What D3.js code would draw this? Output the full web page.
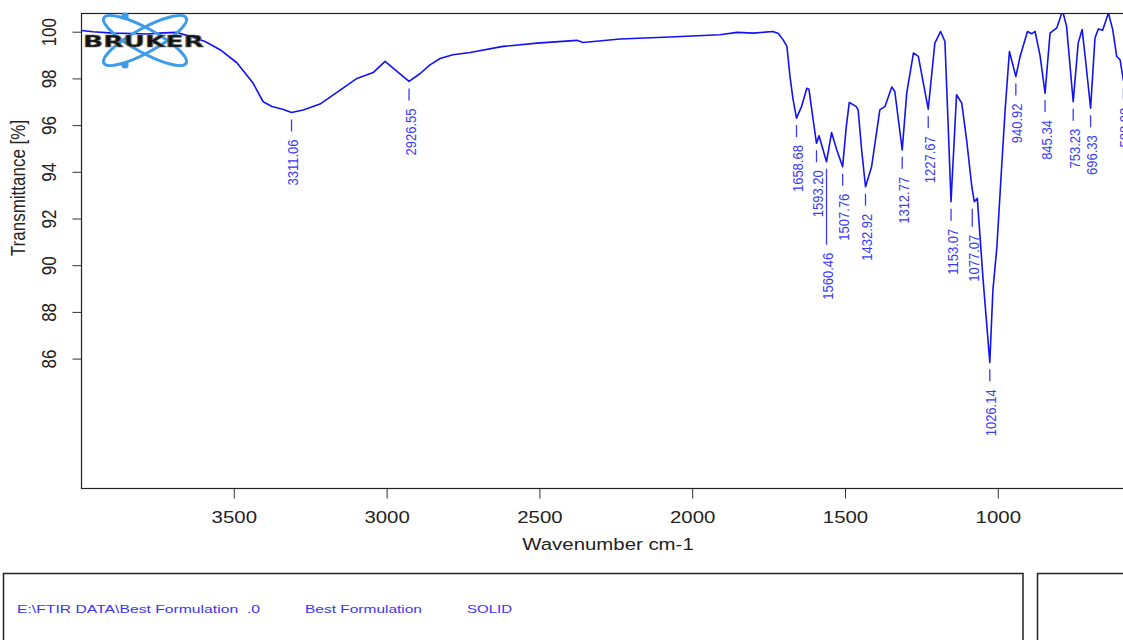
<!DOCTYPE html>
<html>
<head>
<meta charset="utf-8">
<script src="https://cdn.jsdelivr.net/npm/d3@7"></script>
<style>
  body { margin: 0; background: #fff; }
  text { font-family: "Liberation Sans", Arial, sans-serif; }
</style>
</head>
<body>
<script>
// FTIR spectrum (wavenumber cm-1, transmittance %)
var wavenumbers = [3998, 3961, 3895, 3830, 3784, 3730, 3686, 3643, 3594, 3545, 3490, 3437, 3404, 3375, 3340,
  3311.06, 3273, 3218, 3152, 3097, 3044, 3005, 2966, 2926.55, 2891, 2858, 2825, 2783, 2727, 2619, 2508,
  2377, 2357, 2236, 2073, 1909, 1853, 1801, 1736, 1718, 1703, 1690, 1680, 1670, 1658.68, 1642, 1625, 1618,
  1605, 1593.20, 1585, 1573, 1560.46, 1544, 1527, 1507.76, 1496, 1486, 1464, 1457, 1446, 1432.92, 1413,
  1386, 1369, 1347, 1337, 1312.77, 1298, 1276, 1260, 1227.67, 1206, 1187, 1173, 1163, 1153.07, 1135, 1118,
  1102, 1085, 1077.07, 1067, 1048, 1026.14, 1016, 1003, 990, 976, 962, 940.92, 927, 903, 889, 878, 862,
  845.34, 829, 807, 788, 775, 753.23, 737, 724, 713, 696.33, 682, 671, 657, 638, 624, 611, 600, 588.88, 575];
var transmittance = [100.05, 100.0, 99.94, 99.92, 99.9, 99.95, 99.97, 99.8, 99.58, 99.23, 98.67, 97.8, 97.0, 96.8, 96.68,
  96.54, 96.65, 96.9, 97.5, 98.0, 98.25, 98.73, 98.3, 97.87, 98.2, 98.58, 98.85, 99.01, 99.11, 99.37, 99.51,
  99.63, 99.54, 99.69, 99.77, 99.87, 99.97, 99.94, 100.01, 99.92, 99.66, 99.37, 98.08, 97.1, 96.3, 96.8, 97.58, 97.54,
  96.3, 95.22, 95.54, 95.0, 94.43, 95.68, 94.94, 94.22, 95.9, 96.97, 96.8, 96.65, 95.0, 93.36, 94.22,
  96.65, 96.8, 97.63, 97.44, 94.94, 97.37, 99.09, 98.94, 96.68, 99.51, 100.01, 99.58, 96.2, 92.72, 97.3, 96.94,
  95.36, 93.36, 92.72, 92.86, 89.36, 85.84, 88.93, 90.77, 93.65, 96.65, 99.15, 98.08, 98.94, 100.01, 99.91, 100.01, 99.0,
  97.37, 99.94, 100.16, 100.9, 100.23, 97.0, 99.51, 100.09, 98.8, 96.72, 99.73, 100.12, 100.06, 100.8, 100.09, 98.94, 98.8, 97.9, 98.6];

// picked peaks
var peakWn = [3311.06, 2926.55, 1658.68, 1593.20, 1560.46, 1507.76, 1432.92, 1312.77, 1227.67,
  1153.07, 1077.07, 1026.14, 940.92, 845.34, 753.23, 696.33, 588.88];
var peakLabels = ["3311.06", "2926.55", "1658.68", "1593.20", "1560.46", "1507.76", "1432.92", "1312.77", "1227.67",
  "1153.07", "1077.07", "1026.14", "940.92", "845.34", "753.23", "696.33", "588.88"];

var xTicks = [3500, 3000, 2500, 2000, 1500, 1000];
var yTicks = [86, 88, 90, 92, 94, 96, 98, 100];

var footerTexts = ["E:\\FTIR DATA\\Best Formulation  .0", "Best Formulation", "SOLID"];

// the picture is a bit stretched sideways, so text gets stretched too
var SX = 1.2;

//plot frame
var frame = {left: 81.5, top: 13.5, right: 1140, bottom: 488.5};

var svg = d3.select("body").append("svg")
  .attr("width", 1123)
  .attr("height", 640);

var x = d3.scaleLinear()
  .domain([3500, 1000])
  .range([233.8, 997.8]);

var y = d3.scaleLinear()
  .domain([100, 86])
  .range([31.7, 358.6]);

svg.append("clipPath").attr("id", "plotclip")
  .append("rect")
  .attr("x", frame.left).attr("y", frame.top)
  .attr("width", frame.right - frame.left).attr("height", frame.bottom - frame.top);

//bottom axis
var xAxis = svg.append("g")
  .attr("transform", "translate(0," + frame.bottom + ")")
  .call(d3.axisBottom(x).tickValues(xTicks).tickSize(10).tickPadding(12.5).tickFormat(d3.format("d")));
xAxis.select(".domain").remove();
xAxis.selectAll("line").attr("stroke", "#333");
xAxis.selectAll("text")
  .attr("fill", "#222")
  .style("font-size", "17px")
  .attr("transform", "scale(" + SX + ",1)");

//left axis, labels turned on their side
var yAxis = svg.append("g")
  .attr("transform", "translate(" + frame.left + ",0)")
  .call(d3.axisLeft(y).tickValues(yTicks).tickSize(9));
yAxis.select(".domain").remove();
yAxis.selectAll("line").attr("stroke", "#333");
yAxis.selectAll("text")
  .attr("x", null).attr("dy", null).attr("y", 0)
  .attr("fill", "#222")
  .attr("text-anchor", "middle")
  .style("font-size", "17px")
  .attr("transform", "translate(-26,0) scale(" + SX + ",1) rotate(-90)");

//axis titles
svg.append("text")
  .attr("text-anchor", "middle")
  .attr("transform", "translate(608,550) scale(" + SX + ",1)")
  .style("font-size", "17px")
  .attr("fill", "#222")
  .text("Wavenumber cm-1");

svg.append("text")
  .attr("text-anchor", "middle")
  .attr("transform", "translate(25,188) scale(" + SX + ",1) rotate(-90)")
  .style("font-size", "17px")
  .attr("fill", "#222")
  .text("Transmittance [%]");

//spectrum
var line = d3.line()
  .x(function(d, i) { return x(wavenumbers[i]); })
  .y(function(d) { return y(d); });

svg.append("path")
  .datum(transmittance)
  .attr("clip-path", "url(#plotclip)")
  .attr("fill", "none")
  .attr("stroke", "#1212f2")
  .attr("stroke-width", 1.6)
  .attr("stroke-linejoin", "round")
  .attr("d", line);

//peak labels: tick under the peak and the number below it
// two labels are pushed further down where they would collide
var extraDrop = {"1560.46": 64, "1077.07": 6};
var peaks = peakWn.map(function(w, i) {
  var k = d3.minIndex(wavenumbers, function(v) { return Math.abs(v - w); });
  return {wn: w, t: transmittance[k], label: peakLabels[i]};
});

var pk = svg.append("g").attr("clip-path", "url(#plotclip)");
peaks.forEach(function(p) {
  var px = x(p.wn);
  var py = y(p.t);
  var drop = extraDrop[p.label] || 0;
  if (p.label === "1077.07") { px -= 2; }
  pk.append("line")
    .attr("x1", px).attr("x2", px)
    .attr("y1", py + 7).attr("y2", py + 19 + drop)
    .attr("stroke", "#3a3af8")
    .attr("stroke-width", 1.3);
  pk.append("text")
    .attr("text-anchor", "end")
    .attr("transform", "translate(" + (px + 6.5) + "," + (py + 27 + drop) + ") scale(1.1,1) rotate(-90)")
    .style("font-size", "13px")
    .attr("fill", "#3a3af8")
    .text(p.label);
});

//frame
svg.append("rect")
  .attr("x", frame.left).attr("y", frame.top)
  .attr("width", frame.right - frame.left).attr("height", frame.bottom - frame.top)
  .attr("fill", "none")
  .attr("stroke", "#222")
  .attr("stroke-width", 1.2);

//bruker logo
var logo = svg.append("g");
[29, -29].forEach(function(a) {
  logo.append("ellipse")
    .attr("cx", 145).attr("cy", 40.5)
    .attr("rx", 47).attr("ry", 12)
    .attr("transform", "rotate(" + a + ",145,40.5)")
    .attr("fill", "none")
    .attr("stroke", "#3d9be9")
    .attr("stroke-width", 3);
});
logo.selectAll("circle")
  .data([16, 65])
  .enter().append("circle")
  .attr("cx", 125).attr("cy", function(d) { return d; })
  .attr("r", 3.6)
  .attr("fill", "#3d9be9");
logo.append("text")
  .attr("x", 83).attr("y", 47)
  .attr("textLength", 121)
  .attr("lengthAdjust", "spacingAndGlyphs")
  .style("font-family", "'DejaVu Sans', sans-serif")
  .style("font-weight", "bold")
  .style("font-size", "15px")
  .attr("fill", "#111")
  .attr("stroke", "#666")
  .attr("stroke-width", 0.6)
  .text("BRUKER");

//info boxes at the bottom
svg.append("rect")
  .attr("x", 3.5).attr("y", 573.5).attr("width", 1019.5).attr("height", 120)
  .attr("fill", "none").attr("stroke", "#222").attr("stroke-width", 1.5);
svg.append("rect")
  .attr("x", 1037.5).attr("y", 573.5).attr("width", 200).attr("height", 120)
  .attr("fill", "none").attr("stroke", "#222").attr("stroke-width", 1.5);

var footX = [17, 305, 467];
var footW = [243, 117, 45];
svg.selectAll(".foot")
  .data(footerTexts)
  .enter().append("text")
  .attr("class", "foot")
  .attr("x", function(d, i) { return footX[i]; })
  .attr("y", 613)
  .attr("textLength", function(d, i) { return footW[i]; })
  .attr("lengthAdjust", "spacingAndGlyphs")
  .style("font-size", "11.5px")
  .style("white-space", "pre")
  .attr("fill", "#3b33f5")
  .text(function(d) { return d; });
</script>
</body>
</html>
